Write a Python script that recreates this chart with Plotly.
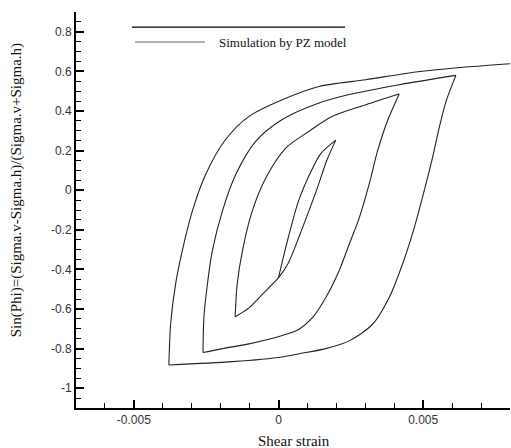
import plotly.graph_objects as go

# ---- data, one list per loading branch ----
b1_strain = [0.0, 0.0003, 0.0007, 0.00114, 0.00146, 0.00198]
b1_ratio = [-0.442, -0.26, -0.05, 0.10, 0.185, 0.253]

b2_strain = [0.00198, 0.00168, 0.00129, 0.00088, 0.00071, 0.00033, 0.0, -0.00056, -0.00102, -0.0015]
b2_ratio = [0.253, 0.155, -0.01, -0.17, -0.235, -0.37, -0.442, -0.526, -0.594, -0.639]

b3_strain = [-0.0015, -0.00143, -0.00125, -0.00091, -0.00044, 0.00025, 0.00106, 0.00186, 0.00302, 0.00417]
b3_ratio = [-0.639, -0.476, -0.308, -0.106, 0.062, 0.213, 0.298, 0.373, 0.432, 0.486]

b4_strain = [0.00417, 0.00376, 0.00342, 0.00313, 0.00279, 0.00244, 0.00209, 0.00163, 0.00117,
             0.00071, 0.00013, -0.00102, -0.00194, -0.00261]
b4_ratio = [0.486, 0.348, 0.197, 0.029, -0.14, -0.274, -0.408, -0.543, -0.644,
            -0.702, -0.734, -0.776, -0.80, -0.82]

b5_strain = [-0.00261, -0.00258, -0.00246, -0.00229, -0.00194, -0.00148, -0.00079, 0.00013,
             0.0014, 0.00244, 0.00417, 0.00613]
b5_ratio = [-0.82, -0.644, -0.476, -0.308, -0.106, 0.079, 0.247, 0.357,
            0.44, 0.483, 0.533, 0.58]

b6_strain = [0.00613, 0.00579, 0.00555, 0.00532, 0.00503, 0.00469, 0.00428, 0.00382, 0.00325,
             0.00244, 0.00163, 0.00071, 0.00013, -0.0016, -0.00379]
b6_ratio = [0.58, 0.449, 0.314, 0.163, -0.005, -0.19, -0.375, -0.543, -0.677,
            -0.761, -0.800, -0.826, -0.842, -0.866, -0.883]

b7_strain = [-0.00379, -0.00373, -0.00356, -0.00333, -0.00298, -0.00252, -0.00183, -0.00102,
             0.00013, 0.0014, 0.00302, 0.00475, 0.00648, 0.008]
b7_ratio = [-0.883, -0.677, -0.476, -0.308, -0.106, 0.079, 0.256, 0.373,
            0.457, 0.524, 0.558, 0.597, 0.622, 0.639]

x_tick_vals = [-0.005, 0, 0.005]
x_tick_text = ["-0.005", "0", "0.005"]
y_tick_vals = [0.8, 0.6, 0.4, 0.2, 0, -0.2, -0.4, -0.6, -0.8, -1]
y_tick_text = ["0.8", "0.6", "0.4", "0.2", "0", "-0.2", "-0.4", "-0.6", "-0.8", "-1"]

series_name = "Simulation by PZ model"
x_title = "Shear strain"
y_title = "Sin(Phi)=(Sigma.v-Sigma.h)/(Sigma.v+Sigma.h)"

branches = [
    (b1_strain, b1_ratio), (b2_strain, b2_ratio), (b3_strain, b3_ratio),
    (b4_strain, b4_ratio), (b5_strain, b5_ratio), (b6_strain, b6_ratio),
    (b7_strain, b7_ratio),
]

fig = go.Figure()
for bx, by in branches:
    fig.add_trace(go.Scatter(
        x=bx, y=by, mode="lines", name=series_name,
        line=dict(color="#222222", width=1.1, shape="spline", smoothing=0.8),
        showlegend=False,
    ))

tick_font = dict(family="Arial, Liberation Sans, sans-serif", size=12, color="#333333")
serif = "Times New Roman, Liberation Serif, serif"

fig.update_xaxes(
    range=[-0.007, 0.008], automargin=False,
    showline=True, linecolor="black", linewidth=2, mirror=False,
    showgrid=False, zeroline=False,
    ticks="inside", ticklen=8, tickwidth=2, tickcolor="black",
    tickvals=x_tick_vals, ticktext=x_tick_text, tickfont=tick_font,
    minor=dict(dtick=0.001, tick0=0, ticks="inside", ticklen=5, tickwidth=1,
               tickcolor="black", showgrid=False),
)
fig.update_yaxes(
    range=[-1.1, 0.9], automargin=False,
    showline=True, linecolor="black", linewidth=2, mirror=False,
    showgrid=False, zeroline=False,
    ticks="inside", ticklen=8, tickwidth=2, tickcolor="black",
    tickvals=y_tick_vals, ticktext=y_tick_text, tickfont=tick_font,
    minor=dict(dtick=0.05, tick0=0, ticks="inside", ticklen=5, tickwidth=1,
               tickcolor="black", showgrid=False),
)

# axis titles
fig.add_annotation(xref="paper", yref="paper", x=0.502, y=-0.084, xanchor="center", yanchor="middle",
                   text=x_title, showarrow=False, font=dict(family=serif, size=15, color="#111111"))
fig.add_annotation(xref="paper", yref="paper", x=-0.138, y=0.55, xanchor="center", yanchor="middle",
                   text=y_title, textangle=-90, showarrow=False,
                   font=dict(family=serif, size=15, color="#111111"))

# legend decoration
fig.add_shape(type="line", xref="paper", yref="paper", x0=0.129, x1=0.62, y0=0.962, y1=0.962,
              line=dict(color="black", width=1.2))
fig.add_shape(type="line", xref="paper", yref="paper", x0=0.136, x1=0.297, y0=0.924, y1=0.924,
              line=dict(color="#999999", width=1.5))
fig.add_annotation(xref="paper", yref="paper", x=0.325, y=0.924, xanchor="left", yanchor="middle",
                   text=series_name, showarrow=False,
                   font=dict(family=serif, size=13, color="#111111"))

fig.update_layout(
    width=511, height=448,
    margin=dict(l=76, r=1, t=12, b=40),
    paper_bgcolor="white", plot_bgcolor="white",
    showlegend=False,
)

fig.write_html("out.html", config={"displayModeBar": False},
               post_script="document.body.style.margin='0';")
